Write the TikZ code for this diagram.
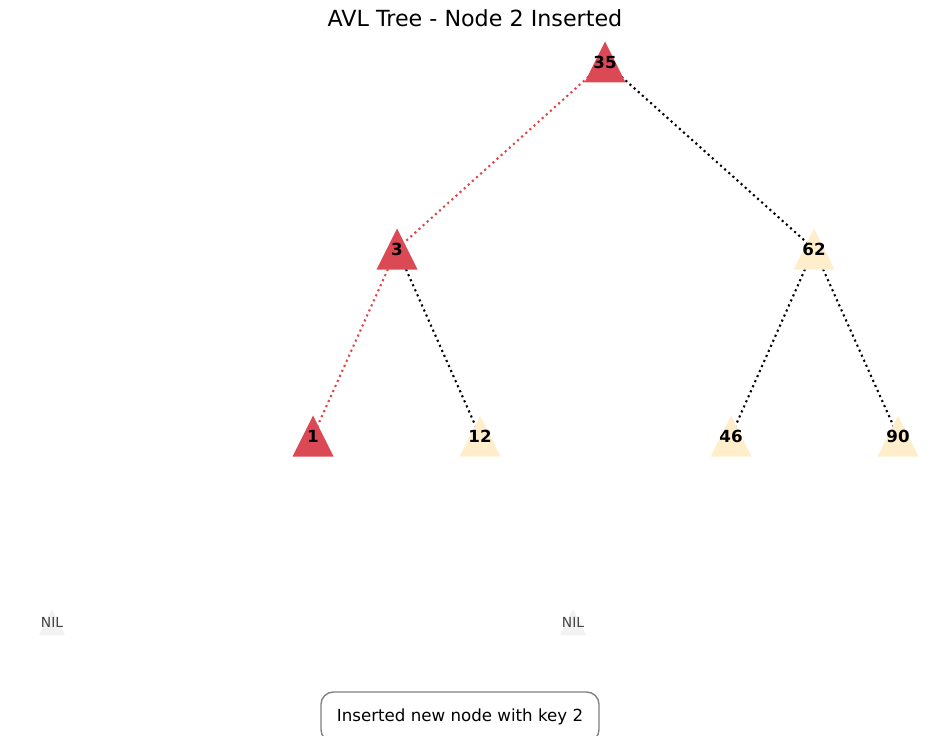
\documentclass[tikz,border=0pt]{standalone}
\usepackage{fontspec}
\setmainfont{DejaVu Sans}
\definecolor{nred}{RGB}{219,73,85}
\definecolor{nyel}{RGB}{255,238,204}
\definecolor{nnil}{RGB}{242,242,242}
\definecolor{ered}{RGB}{222,68,72}
\definecolor{niltxt}{RGB}{68,68,68}
\definecolor{boxgray}{RGB}{128,128,128}
\pgfdeclarelayer{bg}
\pgfsetlayers{bg,main}
\tikzset{
  keylabel/.style={inner sep=0pt, font=\fontsize{12}{14}\selectfont\bfseries},
  nillabel/.style={inner sep=0pt, text=niltxt, font=\fontsize{10}{12}\selectfont},
  edgeblack/.style={line width=1.5pt, black, dash pattern=on 1.5pt off 2.475pt},
  edgered/.style={line width=1.5pt, ered, dash pattern=on 1.5pt off 2.475pt},
  captionbox/.style={draw=boxgray, line width=1pt, fill=white, rounded corners=9pt,
    minimum width=200.2pt, minimum height=36pt, inner sep=0pt,
    font=\fontsize{12}{14}\selectfont},
  titletext/.style={inner sep=0pt, font=\fontsize{16}{19}\selectfont}
}
% #1 name, #2 x, #3 y, #4 fill colour, #5 half size, #6 label style, #7 text
\newcommand\trinode[7]{%
  \fill[#4] (#2,#3-#5) -- (#2-#5,#3+#5) -- (#2+#5,#3+#5) -- cycle;
  \node[#6] (#1) at (#2,#3) {#7};
}
\begin{document}
\begin{tikzpicture}[x=0.72pt, y=-0.72pt]
  \useasboundingbox (0,0) rectangle (950,736);
  \node[titletext] (title) at (475,18) {AVL Tree - Node 2 Inserted};

  \trinode{n35}{605}{62}{nred}{20.5}{keylabel}{35}
  \trinode{n3}{397}{249}{nred}{20.5}{keylabel}{3}
  \trinode{n62}{814}{249}{nyel}{20.5}{keylabel}{62}
  \trinode{n1}{313}{436}{nred}{20.5}{keylabel}{1}
  \trinode{n12}{480}{436}{nyel}{20.5}{keylabel}{12}
  \trinode{n46}{731}{436}{nyel}{20.5}{keylabel}{46}
  \trinode{n90}{898}{436}{nyel}{20.5}{keylabel}{90}
  \trinode{nil1}{52}{622}{nnil}{13}{nillabel}{NIL}
  \trinode{nil2}{573}{622}{nnil}{13}{nillabel}{NIL}

  \begin{pgfonlayer}{bg}
    \draw[edgered] (n35.center) -- (n3.center);
    \draw[edgered] (n3.center) -- (n1.center);
    \draw[edgeblack] (n35.center) -- (n62.center);
    \draw[edgeblack] (n3.center) -- (n12.center);
    \draw[edgeblack] (n62.center) -- (n46.center);
    \draw[edgeblack] (n62.center) -- (n90.center);
  \end{pgfonlayer}

  \node[captionbox] (caption) at (460,717) {Inserted new node with key 2};
\end{tikzpicture}
\end{document}
